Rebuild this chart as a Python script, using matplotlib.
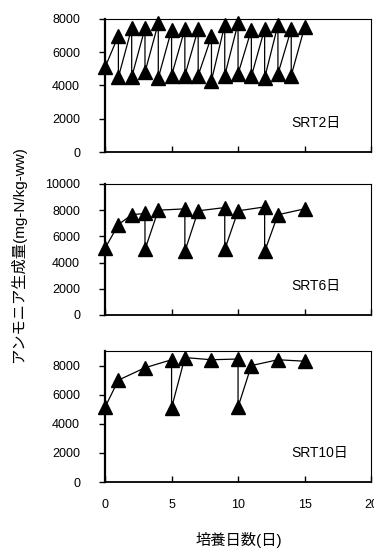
import matplotlib.pyplot as plt

plt.rcParams['font.family'] = ['Liberation Sans', 'Noto Sans CJK JP']

# SRT 2 days: sampled daily, peak then trough on the same day
srt2_days = [0, 1, 1, 2, 2, 3, 3, 4, 4, 5, 5, 6, 6, 7, 7, 8, 8, 9, 9, 10, 10,
             11, 11, 12, 12, 13, 13, 14, 14, 15]
srt2_vals = [5100, 7000, 4500, 7450, 4500, 7450, 4800, 7750, 4450, 7350, 4600,
             7400, 4600, 7400, 4600, 6950, 4300, 7650, 4600, 7750, 4700,
             7350, 4550, 7400, 4450, 7650, 4700, 7400, 4600, 7500]

# SRT 6 days
srt6_days = [0, 1, 2, 3, 3, 4, 6, 6, 7, 9, 9, 10, 12, 12, 13, 15]
srt6_vals = [5100, 6900, 7650, 7750, 5000, 8000, 8100, 4850, 7950, 8200, 5000,
             7950, 8250, 4850, 7650, 8100]

# SRT 10 days
srt10_days = [0, 1, 3, 5, 5, 6, 8, 10, 10, 11, 13, 15]
srt10_vals = [5150, 7000, 7850, 8400, 5100, 8550, 8400, 8450, 5150, 8000, 8400, 8300]

panels = [
    (srt2_days, srt2_vals, 'SRT2日', 8000, [0, 2000, 4000, 6000, 8000]),
    (srt6_days, srt6_vals, 'SRT6日', 10000, [0, 2000, 4000, 6000, 8000, 10000]),
    (srt10_days, srt10_vals, 'SRT10日', 9000, [0, 2000, 4000, 6000, 8000]),
]
# axes boxes in figure fraction [left, bottom, width, height]
boxes = [
    [0.281, 0.7236, 0.711, 0.2419],
    [0.281, 0.4273, 0.711, 0.2382],
    [0.281, 0.1236, 0.711, 0.2382],
]

fig = plt.figure(figsize=(3.74, 5.5), dpi=100)

for i, ((days, vals, label, ymax, yticks), box) in enumerate(zip(panels, boxes)):
    ax = fig.add_axes(box)
    ax.plot(days, vals, color='black', lw=0.9, marker='^', markersize=9.5,
            markerfacecolor='black', markeredgecolor='black', clip_on=False)
    ax.set_xlim(0, 20)
    ax.set_ylim(0, ymax)
    ax.set_xticks([0, 5, 10, 15, 20])
    ax.set_yticks(yticks)
    ax.tick_params(axis='x', direction='in', length=4, width=1, labelsize=9, pad=12)
    ax.tick_params(axis='y', direction='out', length=4, width=1, labelsize=9, pad=14)
    if i < 2:
        ax.tick_params(axis='x', labelbottom=False)
    ax.spines['left'].set_linewidth(1.6)
    ax.spines['bottom'].set_linewidth(1.3)
    ax.spines['top'].set_linewidth(0.8)
    ax.spines['right'].set_linewidth(0.8)
    ax.text(0.70, 0.22, label, transform=ax.transAxes, fontsize=10,
            ha='left', va='center')

fig.text(0.048, 0.537, 'アンモニア生成量(mg-N/kg-ww)', rotation=90,
         ha='center', va='center', fontsize=11)
fig.text(0.639, 0.018, '培養日数(日)', ha='center', va='center', fontsize=11)

fig.savefig('out.png', dpi=100)
